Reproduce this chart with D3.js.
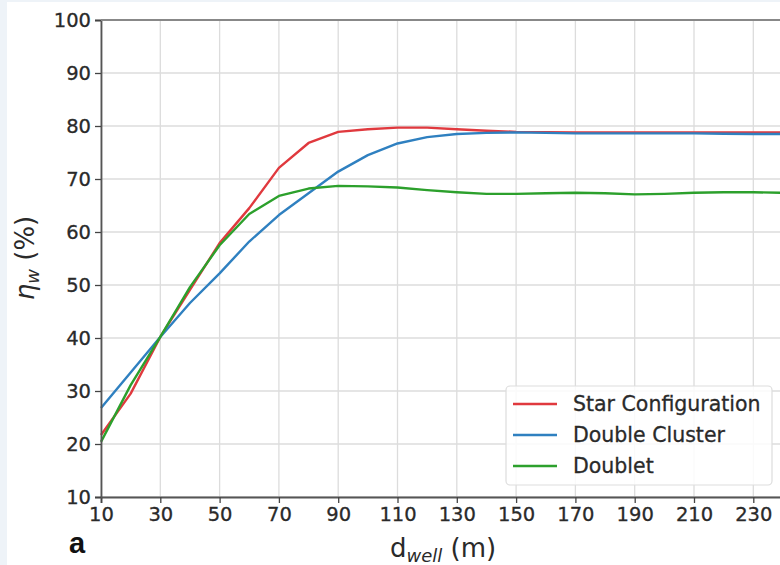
<!DOCTYPE html>
<html><head><meta charset="utf-8">
<script src="https://cdn.jsdelivr.net/npm/d3@7"></script>
<style>body{margin:0;background:#eef3f8;}svg{display:block;}</style>
</head><body>
<svg id="chart" width="780" height="565"></svg>
<script>
const xValues = [10,20,30,40,50,60,70,80,90,100,110,120,130,140,150,160,170,180,190,200,210,220,230,240];
const starConfig = [21.7,29.5,40.2,49.1,57.9,64.5,72.1,76.8,78.9,79.4,79.7,79.7,79.4,79.1,78.9,78.85,78.8,78.8,78.8,78.8,78.8,78.8,78.8,78.8];
const doubleCluster = [26.8,33.5,40.2,46.6,52.2,58.2,63.2,67.3,71.4,74.5,76.7,77.9,78.5,78.7,78.8,78.7,78.6,78.6,78.6,78.6,78.6,78.55,78.5,78.5];
const doublet = [20.4,31.1,40.2,49.6,57.5,63.4,66.8,68.2,68.7,68.6,68.4,67.9,67.5,67.2,67.2,67.3,67.4,67.3,67.1,67.2,67.4,67.5,67.5,67.4];
const seriesNames = ["Star Configuration","Double Cluster","Doublet"];
const seriesColors = ["#e0393e","#2f80c0","#2ca02c"];
const xTicks = [10,30,50,70,90,110,130,150,170,190,210,230];
const yTicks = [10,20,30,40,50,60,70,80,90,100];

const svg = d3.select("#chart");
svg.append("rect").attr("x",7).attr("y",2).attr("width",773).attr("height",563).attr("fill","#fff");

const x = d3.scaleLinear().domain([10,240]).range([101,101+230*2.965]);
const y = d3.scaleLinear().domain([10,100]).range([497,20]);
const font = "DejaVu Sans, sans-serif";
const txt = "#2a2a2a";

// grid
const g = svg.append("g");
g.selectAll(".vg").data(xTicks).join("line")
  .attr("x1",d=>x(d)).attr("x2",d=>x(d)).attr("y1",y(10)).attr("y2",y(100))
  .attr("stroke","#dcdcdc").attr("stroke-width",1.3);
g.selectAll(".hg").data(yTicks).join("line")
  .attr("x1",x(10)).attr("x2",780).attr("y1",d=>y(d)).attr("y2",d=>y(d))
  .attr("stroke","#dcdcdc").attr("stroke-width",1.3);

// lines
const series = [starConfig, doubleCluster, doublet];
const line = d3.line().x((d,i)=>x(xValues[i])).y(d=>y(d));
series.forEach((s,k)=>{
  svg.append("path").datum(s).attr("d",line).attr("fill","none")
    .attr("stroke",seriesColors[k]).attr("stroke-width",2.4).attr("stroke-linejoin","round");
});

// axes
const xAxis = svg.append("g").attr("transform",`translate(0,${y(10)})`)
  .call(d3.axisBottom(x).tickValues(xTicks).tickSize(6).tickPadding(4));
const yAxis = svg.append("g").attr("transform",`translate(${x(10)},0)`)
  .call(d3.axisLeft(y).tickValues(yTicks).tickSize(6).tickPadding(4));
[xAxis,yAxis].forEach(a=>{
  a.select(".domain").attr("stroke","#555").attr("stroke-width",1.8);
  a.selectAll(".tick line").attr("stroke","#444").attr("stroke-width",1.3);
  a.selectAll(".tick text").attr("font-family",font).attr("font-size",19.5).attr("fill",txt)
    .attr("stroke",txt).attr("stroke-width",0.3);
});
// top spine
svg.append("line").attr("x1",x(10)).attr("x2",780).attr("y1",y(100)).attr("y2",y(100))
  .attr("stroke","#888").attr("stroke-width",1.8);

// axis labels
const yl = svg.append("text").attr("transform","translate(34,258) rotate(-90)")
  .attr("text-anchor","middle").attr("font-family",font).attr("font-size",26).attr("fill",txt);
yl.append("tspan").attr("font-style","italic").text("η");
yl.append("tspan").attr("font-style","italic").attr("font-size",18).attr("dy",5).text("w");
yl.append("tspan").attr("dy",-5).text(" (%)");

const xl = svg.append("text").attr("x",443).attr("y",557)
  .attr("text-anchor","middle").attr("font-family",font).attr("font-size",26).attr("fill",txt);
xl.append("tspan").text("d");
xl.append("tspan").attr("font-style","italic").attr("font-size",18).attr("dy",5).text("well");
xl.append("tspan").attr("dy",-5).text(" (m)");

svg.append("text").attr("x",69).attr("y",553).attr("font-family","Liberation Sans, Arial, sans-serif")
  .attr("font-weight","bold").attr("font-size",29).attr("fill","#111").text("a");

// legend
const lg = svg.append("g");
lg.append("rect").attr("x",506).attr("y",386).attr("width",266).attr("height",99).attr("rx",4)
  .attr("fill","#fff").attr("fill-opacity",0.85).attr("stroke","#ddd").attr("stroke-width",1.2);
seriesNames.forEach((n,k)=>{
  const yy = 404 + k*31;
  lg.append("line").attr("x1",513).attr("x2",557).attr("y1",yy).attr("y2",yy)
    .attr("stroke",seriesColors[k]).attr("stroke-width",2.4);
  lg.append("text").attr("x",573).attr("y",yy+7).attr("font-family",font).attr("font-size",20.5)
    .attr("fill",txt).attr("stroke",txt).attr("stroke-width",0.3).text(n);
});
</script>
</body></html>
